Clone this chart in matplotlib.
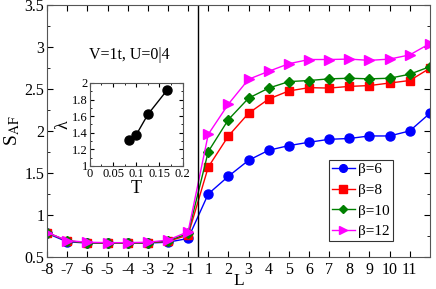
import matplotlib
matplotlib.use("Agg")
import matplotlib.pyplot as plt
from matplotlib.ticker import MultipleLocator
import numpy as np

plt.rcParams['font.family'] = ['Liberation Serif', 'DejaVu Serif']
plt.rcParams['mathtext.fontset'] = 'stix'

L_values = [-8, -7, -6, -5, -4, -3, -2, -1, 1, 2, 3, 4, 5, 6, 7, 8, 9, 10, 11, 12]
tick_labels = ['-8', '-7', '-6', '-5', '-4', '-3', '-2', '-1',
               '1', '2', '3', '4', '5', '6', '7', '8', '9', '10', '11']

s_b6 = [0.78, 0.68, 0.665, 0.665, 0.665, 0.665, 0.675, 0.72,
        1.25, 1.46, 1.65, 1.77, 1.825, 1.865, 1.90, 1.91, 1.94, 1.94, 2.00, 2.21]
s_b8 = [0.79, 0.69, 0.67, 0.665, 0.665, 0.67, 0.685, 0.76,
        1.57, 1.94, 2.21, 2.38, 2.476, 2.515, 2.51, 2.53, 2.54, 2.57, 2.60, 2.746]
s_b10 = [0.79, 0.69, 0.67, 0.665, 0.665, 0.67, 0.69, 0.78,
         1.754, 2.135, 2.39, 2.51, 2.587, 2.60, 2.62, 2.627, 2.62, 2.627, 2.675, 2.765]
s_b12 = [0.79, 0.695, 0.675, 0.67, 0.67, 0.675, 0.70, 0.80,
         1.96, 2.32, 2.615, 2.71, 2.80, 2.85, 2.85, 2.855, 2.84, 2.855, 2.905, 3.04]

T_values = [1/12, 1/10, 1/8, 1/6]
lam_values = [1.31, 1.375, 1.62, 1.915]

series = [
    (s_b6, 'β=6', 'blue', 'o'),
    (s_b8, 'β=8', 'red', 's'),
    (s_b10, 'β=10', 'green', 'D'),
    (s_b12, 'β=12', 'magenta', '>'),
]

pos = np.arange(len(L_values))

fig = plt.figure(figsize=(4.36, 2.89), dpi=100)
ax = fig.add_axes([0.108, 0.111, 0.878, 0.872])

sizes = {'o': 6.5, 's': 6, 'D': 5, '>': 7}
for vals, lab, col, mk in series:
    ax.plot(pos, vals, color=col, marker=mk, markersize=sizes[mk], lw=1.0, label=lab)

ax.axvline(7.5, color='black', lw=1.0)
ax.set_xlim(0, 19)
ax.set_ylim(0.5, 3.5)
ax.set_xticks(pos[:-1])
ax.set_xticklabels(tick_labels)
ax.set_yticks([0.5, 1, 1.5, 2, 2.5, 3, 3.5])
ax.set_yticklabels(['0.5', '1', '1.5', '2', '2.5', '3', '3.5'])
ax.yaxis.set_minor_locator(MultipleLocator(0.25))
ax.tick_params(direction='in', which='both', top=True, right=True, labelsize=11.5, pad=2)
ax.tick_params(axis='x', pad=4)
ax.tick_params(which='major', length=4)
ax.tick_params(which='minor', length=2)
for sp in ax.spines.values():
    sp.set_color('#555555')
ax.set_xlabel('L', fontsize=12.5, labelpad=-4)
ax.set_ylabel(r'S$_{\rm AF}$', fontsize=14, labelpad=2)

ax.text(0.215, 0.80, 'V=1t, U=0|4', transform=ax.transAxes, fontsize=11.5,
        ha='center', va='center')

leg = ax.legend(loc='upper left', bbox_to_anchor=(0.736, 0.386), fontsize=11,
                frameon=True, fancybox=False, edgecolor='black', handlelength=1.5,
                borderpad=0.2, labelspacing=0.45, handletextpad=0.2,
                borderaxespad=0.0, markerscale=0.85)
leg.get_frame().set_linewidth(0.8)

ins = fig.add_axes([0.206, 0.426, 0.213, 0.287])
ins.plot(T_values, lam_values, color='black', marker='o', markersize=6.5, lw=1.0)
ins.set_xlim(0, 0.2)
ins.set_ylim(1, 2)
ins.set_xticks([0, 0.05, 0.1, 0.15, 0.2])
ins.set_xticklabels(['0', '0.05', '0.1', '0.15', '0.2'])
ins.set_yticks([1, 1.2, 1.4, 1.6, 1.8, 2])
ins.set_yticklabels(['1', '1.2', '1.4', '1.6', '1.8', '2'])
ins.xaxis.set_minor_locator(MultipleLocator(0.025))
ins.yaxis.set_minor_locator(MultipleLocator(0.1))
ins.tick_params(direction='in', which='both', top=True, right=True, labelsize=9, pad=1.5)
ins.tick_params(which='major', length=3)
ins.tick_params(which='minor', length=1.5)
for sp in ins.spines.values():
    sp.set_color('#555555')
ins.set_xlabel('T', fontsize=13, labelpad=0)
ins.set_ylabel('λ', fontsize=13, labelpad=0)

fig.savefig('out.png', dpi=100)
